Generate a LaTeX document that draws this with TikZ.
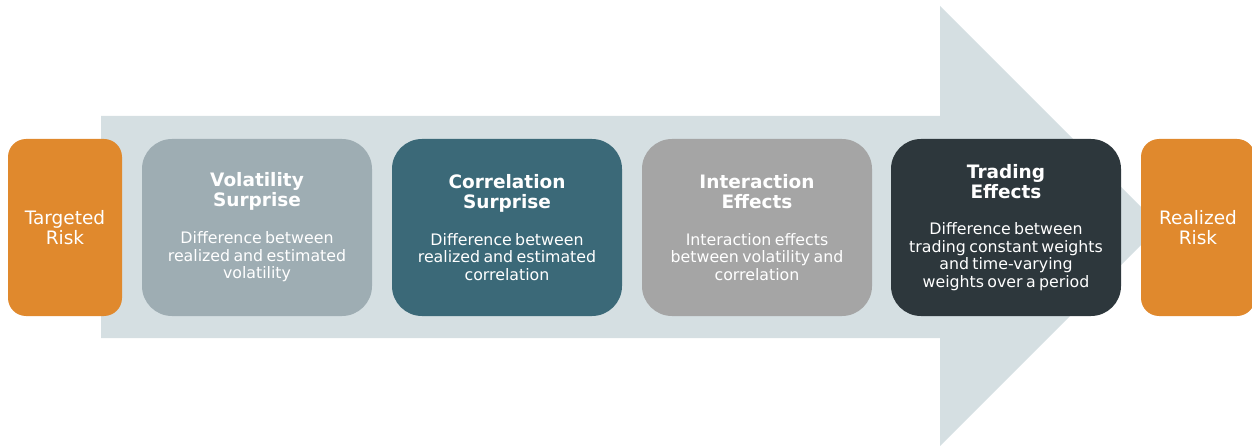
\documentclass[tikz,border=0pt]{standalone}
\usepackage{fontspec}
\setmainfont{DejaVu Sans}
\definecolor{arrowc}{HTML}{D5DFE2}
\definecolor{orangec}{HTML}{E0892D}
\definecolor{volc}{HTML}{9EADB3}
\definecolor{corc}{HTML}{3B6978}
\definecolor{intc}{HTML}{A5A5A5}
\definecolor{trac}{HTML}{2D373C}
\tikzset{
  stepbox/.style={rectangle, rounded corners=30pt, minimum width=230pt, minimum height=177pt,
    text=white, align=center, inner sep=0pt, text width=224pt},
  endbox/.style={rectangle, rounded corners=18pt, minimum width=114pt, minimum height=177pt,
    text=white, align=center, inner sep=0pt, text width=112pt,
    font=\fontsize{18.5}{20.5}\selectfont},
}
\newcommand{\mysteptext}[2]{{\fontsize{18.5}{20}\selectfont\bfseries #1\par}\vspace{19pt}{\fontsize{15.8}{17.6}\selectfont #2\par}}
\begin{document}
\begin{tikzpicture}[x=1pt,y=-1pt]
\useasboundingbox (0,0) rectangle (1252,446);
\fill[arrowc] (101,116) -- (940,116) -- (940,6) -- (1160,226) -- (940,446) -- (940,338) -- (101,338) -- cycle;
\node[endbox, fill=orangec] (target) at (65,227.5) {Targeted\par Risk};
\node[stepbox, fill=volc] (vol) at (257,227.5) {\mysteptext{Volatility\par Surprise}{Difference between\par realized and estimated\par volatility}};
\node[stepbox, fill=corc] (cor) at (507,227.5) {\mysteptext{Correlation\par Surprise}{Difference between\par realized and estimated\par correlation}};
\node[stepbox, fill=intc] (int) at (757,227.5) {\mysteptext{Interaction\par Effects}{Interaction effects\par between volatility and\par correlation}};
\node[stepbox, fill=trac] (tra) at (1006,227.5) {\mysteptext{Trading\par Effects}{Difference between\par trading constant weights\par and time-varying\par weights over a period}};
\node[endbox, fill=orangec] (real) at (1198,227.5) {Realized\par Risk};
\end{tikzpicture}
\end{document}
